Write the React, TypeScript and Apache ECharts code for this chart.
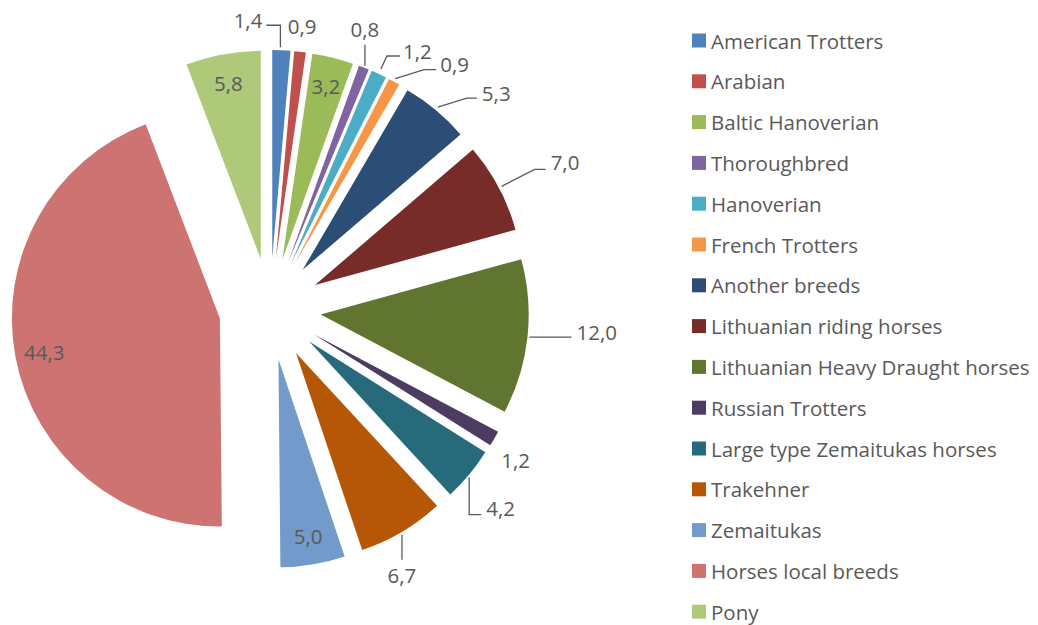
import React, { useEffect, useRef } from 'react';
import * as echarts from 'echarts';

const categories = [
  'American Trotters',
  'Arabian',
  'Baltic Hanoverian',
  'Thoroughbred',
  'Hanoverian',
  'French Trotters',
  'Another breeds',
  'Lithuanian riding horses',
  'Lithuanian Heavy Draught horses',
  'Russian Trotters',
  'Large type Zemaitukas horses',
  'Trakehner',
  'Zemaitukas',
  'Horses local breeds',
  'Pony',
];

const values = [1.4, 0.9, 3.2, 0.8, 1.2, 0.9, 5.3, 7.0, 12.0, 1.2, 4.2, 6.7, 5.0, 44.3, 5.8];

const colors = [
  '#4F81BD', '#C0504D', '#9BBB59', '#8064A2', '#4BACC6', '#F79646', '#2C4D75',
  '#772C2A', '#5F7530', '#4D3B62', '#276A7C', '#B65708', '#729ACA', '#CD7371', '#AFC97A',
];

// which labels sit inside their slice
const insideLabel = [false, false, true, false, false, false, false, false, false, false, false, false, true, true, true];

// leader line shapes, relative to the exploded slice's outer edge point (styling only)
type Leader = { pts: number[][]; lab: number[]; align: 'left' | 'right' | 'center' };
const leaders: Record<number, Leader> = {
  0: { pts: [[-1, -3], [-1, -25], [-15, -25]], lab: [-19, -30], align: 'right' },
  1: { pts: [], lab: [2, -26], align: 'center' },
  3: { pts: [[1, -2], [1, -23]], lab: [1, -39], align: 'center' },
  4: { pts: [[2, -5], [8, -18], [21, -18]], lab: [24, -23], align: 'left' },
  5: { pts: [[1, -3], [30, -12], [42, -12]], lab: [46, -18], align: 'left' },
  6: { pts: [[2, -3], [31, -12], [41, -12]], lab: [46, -17], align: 'left' },
  7: { pts: [[3, -1], [36, -18], [47, -18]], lab: [52, -25], align: 'left' },
  8: { pts: [[2, 0], [44, 0]], lab: [49, -5], align: 'left' },
  9: { pts: [], lab: [7, 21], align: 'left' },
  10: { pts: [[0, 3], [0, 40], [12, 40]], lab: [17, 33], align: 'left' },
  11: { pts: [[0, 3], [0, 28]], lab: [0, 43], align: 'center' },
};

const FONT = "'Open Sans', 'Noto Sans', sans-serif";
const TEXT = '#595959';
const LABEL_SIZE = 20.5;
const fmt = (v: number) => v.toFixed(1).replace('.', ',');

export default function App() {
  const ref = useRef<HTMLDivElement>(null);
  useEffect(() => {
    document.body.style.margin = '0';
    const chart = echarts.init(ref.current!, undefined, { renderer: 'svg' });
    const CX = 270, CY = 309, R = 208, OFF = 51;
    const base = {
      type: 'pie',
      center: [CX, CY],
      startAngle: 90,
      clockwise: true,
      avoidLabelOverlap: false,
      emphasis: { disabled: true },
    };
    const labelText = {
      formatter: (p: any) => fmt(p.value),
      fontFamily: FONT,
      fontSize: LABEL_SIZE,
      color: TEXT,
    };
    const option: any = {
      animation: false,
      backgroundColor: '#ffffff',
      legend: {
        orient: 'vertical',
        left: 692,
        top: 30,
        height: 595,
        padding: 0,
        itemWidth: 14,
        itemHeight: 14,
        itemGap: 19.8,
        icon: 'rect',
        data: categories,
        selectedMode: false,
        textStyle: { fontFamily: FONT, fontSize: 20.5, color: TEXT },
      },
      series: [
        {
          ...base,
          radius: [0, R],
          selectedMode: 'multiple',
          selectedOffset: OFF,
          itemStyle: { borderWidth: 0 },
          label: { show: false },
          labelLine: { show: false },
          data: categories.map((name, i) => ({
            name,
            value: values[i],
            selected: true,
            itemStyle: { color: colors[i] },
          })),
        },
        {
          ...base,
          silent: true,
          radius: [R * 0.69, R],
          selectedMode: 'multiple',
          selectedOffset: OFF,
          itemStyle: { color: 'rgba(0,0,0,0)' },
          labelLine: { show: false },
          data: categories.map((name, i) => ({
            name,
            value: values[i],
            selected: true,
            label: { show: insideLabel[i] },
          })),
          label: { position: 'inside', ...labelText },
        },
        {
          ...base,
          silent: true,
          radius: [0, R],
          itemStyle: { color: 'rgba(0,0,0,0)' },
          data: categories.map((name, i) => ({
            name,
            value: values[i],
            label: { show: !insideLabel[i] },
            labelLine: {
              show: !insideLabel[i],
              lineStyle: { opacity: (leaders[i]?.pts.length ?? 0) > 0 ? 1 : 0 },
            },
          })),
          label: { show: true, position: 'outside', ...labelText },
          labelLine: { length: 15, length2: 10, lineStyle: { color: TEXT, width: 1.3 } },
          labelLayout: (p: any) => {
            const L = leaders[p.dataIndex];
            if (!L || !p.labelLinePoints) return {};
            const p0 = p.labelLinePoints[0];
            const vx = p0[0] - CX, vy = p0[1] - CY;
            const n = Math.hypot(vx, vy) || 1;
            // outer edge point of the exploded slice
            const ex = p0[0] + (OFF * vx) / n;
            const ey = p0[1] + (OFF * vy) / n;
            const pts = L.pts.length ? L.pts : [[0, 0], [0, 0]];
            return {
              x: ex + L.lab[0],
              y: ey + L.lab[1],
              align: L.align,
              verticalAlign: 'middle',
              labelLinePoints: pts.map(q => [ex + q[0], ey + q[1]]),
            };
          },
        },
      ],
    };
    chart.setOption(option);
    return () => chart.dispose();
  }, []);
  return <div ref={ref} style={{ width: 1038, height: 625 }} />;
}
